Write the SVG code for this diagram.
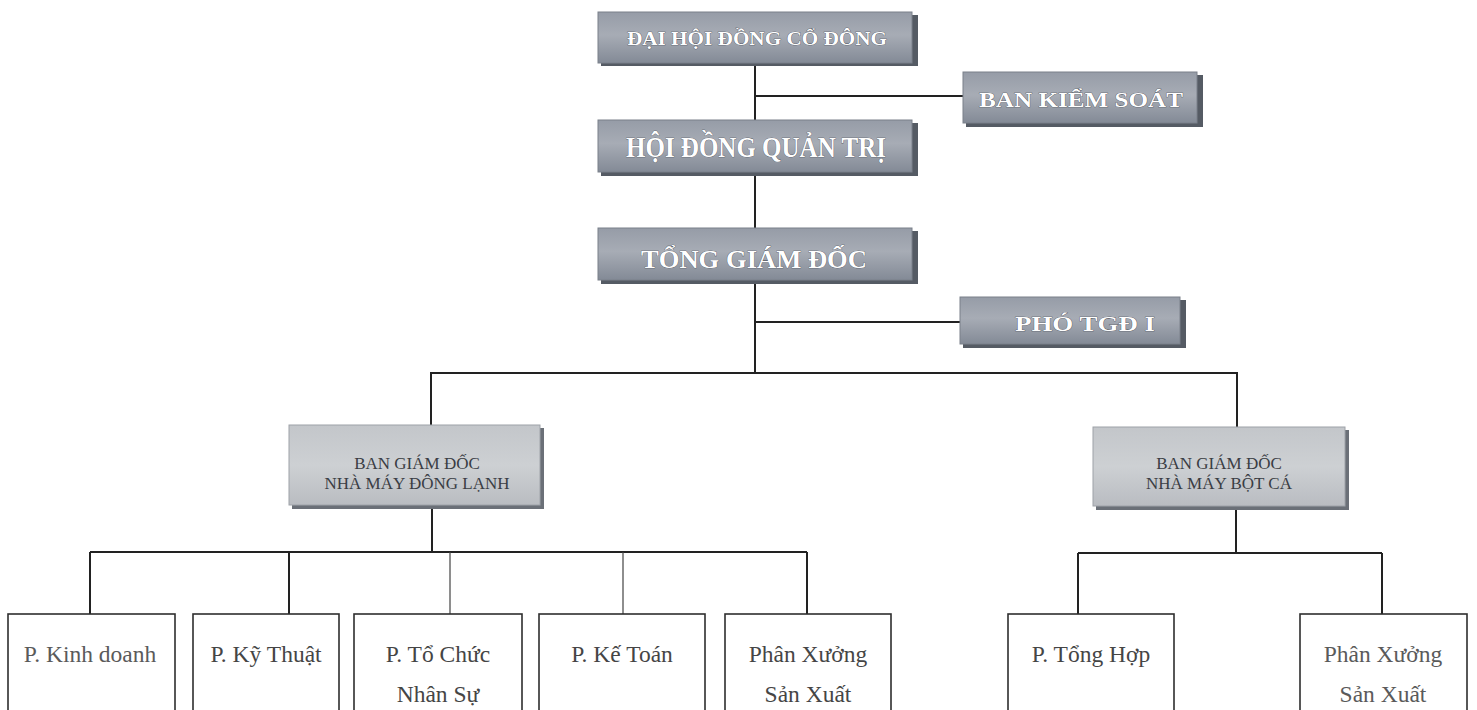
<svg xmlns="http://www.w3.org/2000/svg" width="1477" height="710" viewBox="0 0 1477 710">
  <defs>
    <linearGradient id="gTop" x1="0" y1="0" x2="0" y2="1">
      <stop offset="0" stop-color="#969ca7"/>
      <stop offset="0.45" stop-color="#a7acb5"/>
      <stop offset="1" stop-color="#838a96"/>
    </linearGradient>
    <linearGradient id="gMid" x1="0" y1="0" x2="0" y2="1">
      <stop offset="0" stop-color="#c3c6ca"/>
      <stop offset="0.5" stop-color="#cdd0d3"/>
      <stop offset="1" stop-color="#b9bcc1"/>
    </linearGradient>
  </defs>
  <style>
    .shadow { fill: #555b64; }
    .topbox { fill: url(#gTop); stroke: #7a808a; stroke-width: 1; }
    .midbox { fill: url(#gMid); stroke: #9ea2a8; stroke-width: 1; }
    .midshadow { fill: #6b7078; }
    .leaf { fill: #ffffff; stroke: #2e2e2e; stroke-width: 1.6; }
    .ttl { font-family: "Liberation Serif", "Times New Roman", serif; font-weight: bold; fill: #ffffff; stroke: #3c414a; stroke-width: 0.6; paint-order: stroke; text-anchor: middle; }
    .mid { font-family: "Liberation Serif", "Times New Roman", serif; fill: #3a3d44; font-size: 17px; text-anchor: middle; }
    .leaft { font-family: "Liberation Serif", "Times New Roman", serif; fill: #454545; font-size: 23.5px; text-anchor: middle; }
    .grey { fill: #5a5a5a; }
    .ln { stroke: #222222; stroke-width: 2; fill: none; }
    .lnt { stroke: #444444; stroke-width: 1.2; fill: none; }
  </style>

  <g id="connectors">
    <path class="ln" d="M755 64 V120 M755 96 H963"/>
    <path class="ln" d="M755 175 V228"/>
    <path class="ln" d="M755 282 V373 M755 322 H960"/>
    <path class="ln" d="M430 373 H1238 M431 373 V425 M1237 373 V427"/>
    <path class="ln" d="M432 508 V552 M90 552 H807 M90 552 V614 M289 552 V614 M807 552 V614"/>
    <path class="lnt" d="M450 552 V614 M623 552 V614"/>
    <path class="ln" d="M1236 508 V553 M1078 553 H1382 M1078 553 V614 M1382 553 V614"/>
  </g>

  <g id="n-dhdcd">
    <rect class="shadow" x="601" y="15" width="317" height="51"/>
    <rect class="topbox" x="598" y="12" width="314" height="51"/>
    <text class="ttl" x="757" y="45" font-size="19" textLength="260" lengthAdjust="spacingAndGlyphs">ĐẠI HỘI ĐỒNG CỔ ĐÔNG</text>
  </g>
  <g id="n-bks">
    <rect class="shadow" x="966" y="75" width="237" height="52"/>
    <rect class="topbox" x="963" y="72" width="234" height="51"/>
    <text class="ttl" x="1081" y="107" font-size="21" textLength="204" lengthAdjust="spacingAndGlyphs">BAN KIỂM SOÁT</text>
  </g>
  <g id="n-hdqt">
    <rect class="shadow" x="601" y="123" width="317" height="53"/>
    <rect class="topbox" x="598" y="120" width="314" height="52"/>
    <text class="ttl" x="756" y="157" font-size="29" textLength="260" lengthAdjust="spacingAndGlyphs">HỘI ĐỒNG QUẢN TRỊ</text>
  </g>
  <g id="n-tgd">
    <rect class="shadow" x="601" y="231" width="317" height="53"/>
    <rect class="topbox" x="598" y="228" width="314" height="52"/>
    <text class="ttl" x="754" y="268" font-size="26" textLength="226" lengthAdjust="spacingAndGlyphs">TỔNG GIÁM ĐỐC</text>
  </g>
  <g id="n-pho">
    <rect class="shadow" x="963" y="300" width="223" height="48"/>
    <rect class="topbox" x="960" y="297" width="220" height="47"/>
    <text class="ttl" x="1085" y="331" font-size="22" textLength="140" lengthAdjust="spacingAndGlyphs">PHÓ TGĐ I</text>
  </g>

  <g id="n-bgd-dl">
    <rect class="midshadow" x="292" y="428" width="252" height="81"/>
    <rect class="midbox" x="289" y="425" width="251" height="80"/>
    <text class="mid" x="417" y="469">BAN GIÁM ĐỐC</text>
    <text class="mid" x="417" y="489">NHÀ MÁY ĐÔNG LẠNH</text>
  </g>
  <g id="n-bgd-bc">
    <rect class="midshadow" x="1096" y="430" width="253" height="80"/>
    <rect class="midbox" x="1093" y="427" width="252" height="79"/>
    <text class="mid" x="1219" y="469">BAN GIÁM ĐỐC</text>
    <text class="mid" x="1219" y="489">NHÀ MÁY BỘT CÁ</text>
  </g>

  <g id="n-kd">
    <rect class="leaf" x="8" y="614" width="167" height="110"/>
    <text class="leaft grey" x="90" y="662">P. Kinh doanh</text>
  </g>
  <g id="n-kt">
    <rect class="leaf" x="193" y="614" width="146" height="110"/>
    <text class="leaft" x="266" y="662">P. Kỹ Thuật</text>
  </g>
  <g id="n-tcns">
    <rect class="leaf" x="354" y="614" width="168" height="110"/>
    <text class="leaft" x="438" y="662">P. Tổ Chức</text>
    <text class="leaft" x="438" y="702">Nhân Sự</text>
  </g>
  <g id="n-ketoan">
    <rect class="leaf" x="539" y="614" width="166" height="110"/>
    <text class="leaft" x="622" y="662">P. Kế Toán</text>
  </g>
  <g id="n-pxsx1">
    <rect class="leaf" x="725" y="614" width="166" height="110"/>
    <text class="leaft" x="808" y="662">Phân Xưởng</text>
    <text class="leaft" x="808" y="702">Sản Xuất</text>
  </g>
  <g id="n-tonghop">
    <rect class="leaf" x="1008" y="614" width="166" height="110"/>
    <text class="leaft" x="1091" y="662">P. Tổng Hợp</text>
  </g>
  <g id="n-pxsx2">
    <rect class="leaf" x="1300" y="614" width="167" height="110"/>
    <text class="leaft grey" x="1383" y="662">Phân Xưởng</text>
    <text class="leaft grey" x="1383" y="702">Sản Xuất</text>
  </g>
</svg>
